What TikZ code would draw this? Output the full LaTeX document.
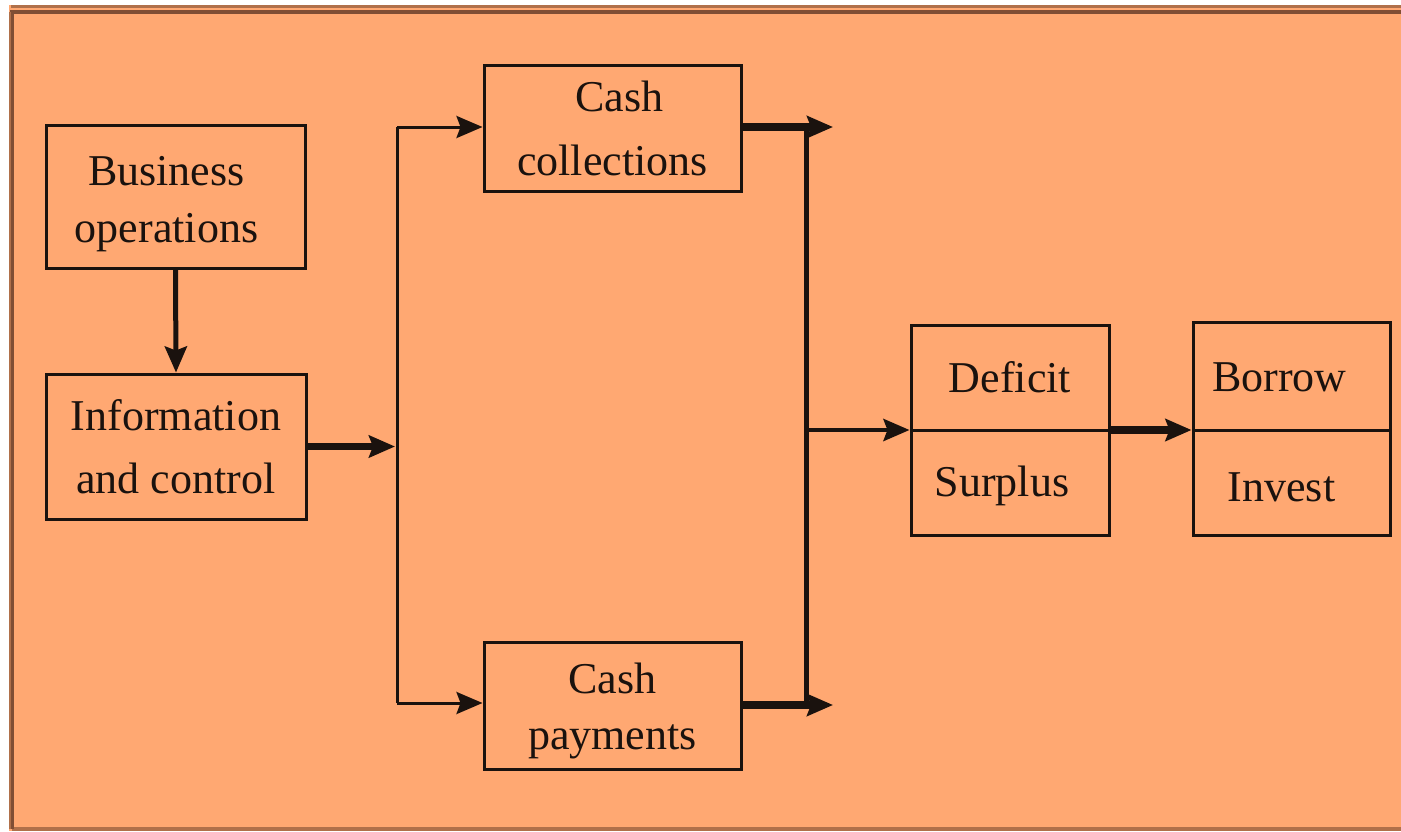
\documentclass[tikz,border=0pt]{standalone}
\usepackage{fontspec}
\setmainfont{Liberation Serif}
\usetikzlibrary{arrows.meta}
\definecolor{bgorange}{RGB}{255,168,114}
\definecolor{framebrown}{RGB}{128,78,52}
\definecolor{framelight}{RGB}{176,112,74}
\definecolor{ink}{RGB}{26,18,14}
\begin{document}
\begin{tikzpicture}[x=1pt,y=-1pt,
  box/.style={draw=ink,line width=3pt,fill=none,inner sep=0pt,align=center,text=ink},
  thin/.style={draw=ink,line width=3pt},
  mid/.style={draw=ink,line width=5pt},
  thick/.style={draw=ink,line width=8pt},
  tip/.style={-{Stealth[length=26pt,width=22pt,inset=4pt]}}
]
\useasboundingbox (0,0) rectangle (1401,831);
% background and frame
\fill[bgorange] (9,5) rectangle (1401,831);
\draw[framelight,line width=3pt] (10.5,6.5) -- (1401,6.5);
\draw[framelight,line width=4pt] (12,829) -- (1401,829);
\draw[framebrown,line width=4pt] (1401,12) -- (12,12) -- (12,829);
\draw[framelight,line width=2pt] (10,12) -- (10,829);

% boxes
\node[box,minimum width=259pt,minimum height=143pt,font=\fontsize{44}{57}\selectfont] (bus) at (175.5,196.5) {\rule{0pt}{44pt}Business\hspace*{18pt}\\operations\hspace*{18pt}};
\node[box,minimum width=260pt,minimum height=145pt,font=\fontsize{44}{63}\selectfont] (info) at (176,446.5) {Information\\and control};
\node[box,minimum width=257pt,minimum height=126pt,font=\fontsize{44}{64}\selectfont] (coll) at (612.5,128) {\hspace*{14pt}Cash\\collections};
\node[box,minimum width=257pt,minimum height=127pt,font=\fontsize{44}{56}\selectfont] (pay) at (612.5,705.5) {\rule{0pt}{41pt}Cash\\payments};
\node[box,minimum width=198pt,minimum height=105pt,font=\fontsize{44}{54}\selectfont,text height=30pt,text depth=0pt] (def) at (1010,377.5) {Deficit};
\node[box,minimum width=198pt,minimum height=105pt,font=\fontsize{44}{54}\selectfont,text height=30pt,text depth=2pt] (sur) at (1010,482.5) {Surplus\hspace*{16pt}};
\node[box,minimum width=197pt,minimum height=108pt,font=\fontsize{44}{54}\selectfont,text height=30pt,text depth=0pt] (bor) at (1291.5,376) {Borrow\hspace*{24pt}};
\node[box,minimum width=197pt,minimum height=105pt,font=\fontsize{44}{54}\selectfont,text height=38pt,text depth=0pt] (inv) at (1291.5,482.5) {Invest\hspace*{20pt}};

% junction coordinates
\coordinate (splittop) at (397,127);
\coordinate (splitbot) at (397,703);
\coordinate (infoend) at (395,446.5);
\coordinate (colltip) at (833,127);
\coordinate (paytip) at (833,705);
\coordinate (jtop) at (806,127);
\coordinate (jbot) at (806,705);
\coordinate (jmid) at (806,430);

% connectors
\draw[mid,tip] (bus.south) -- (info.north);
\draw[draw=ink,line width=6.5pt,tip] (info.east) -- (infoend);
\draw[thin] (splittop) -- (splitbot);
\draw[thin,tip] (splittop) -- (splittop -| coll.west);
\draw[thin,tip] (splitbot) -- (splitbot -| pay.west);
\draw[thick,tip] (coll.east |- colltip) -- (colltip);
\draw[thick,tip] (pay.east |- paytip) -- (paytip);
\draw[mid] ([yshift=-4pt]jtop) -- ([yshift=4pt]jbot);
\draw[draw=ink,line width=4.5pt,tip] (jmid) -- (jmid -| def.west);
\draw[thick,tip] (def.east |- jmid) -- (jmid -| bor.west);
\end{tikzpicture}
\end{document}
